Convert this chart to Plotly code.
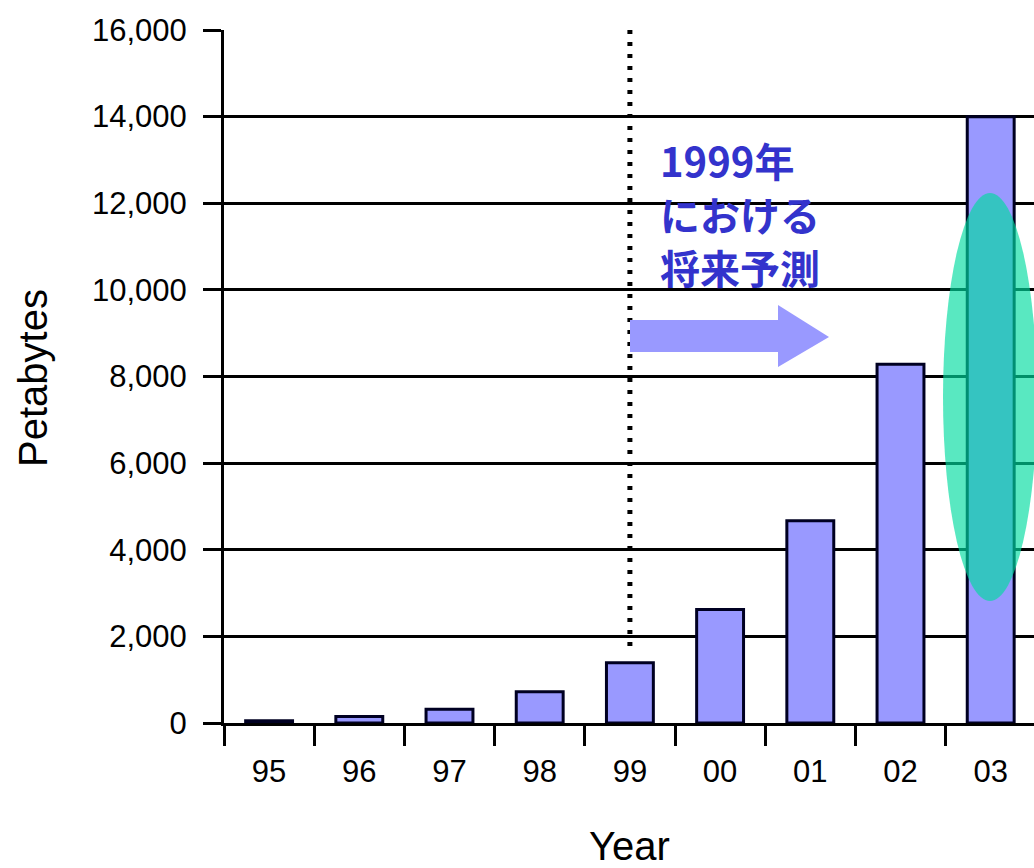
import plotly.graph_objects as go

# ---- data ----
years = ["95", "96", "97", "98", "99", "00", "01", "02", "03"]
petabytes = [50, 150, 320, 720, 1390, 2620, 4670, 8280, 14000]
y_ticks = [0, 2000, 4000, 6000, 8000, 10000, 12000, 14000, 16000]
y_ticktext = ["0", "2,000", "4,000", "6,000", "8,000", "10,000", "12,000", "14,000", "16,000"]
note_lines = ["1999年", "における", "将来予測"]

W, H = 1034, 868
L, R, T, B = 224, 0, 30, 145
PW, PH = W - L - R, H - T - B


def px(x):
    return (x - L) / PW


def py(y):
    return (H - B - y) / PH


fig = go.Figure()
fig.add_trace(go.Bar(
    x=years, y=petabytes,
    width=0.52,
    marker=dict(color="#9999ff", line=dict(color="#000022", width=3)),
    showlegend=False,
))

axis_font = dict(family="Liberation Sans, Arial, sans-serif", size=31, color="black")

fig.update_layout(
    width=W, height=H,
    margin=dict(l=L, r=R, t=T, b=B, autoexpand=False),
    paper_bgcolor="white", plot_bgcolor="white",
    xaxis=dict(
        type="category", categoryorder="array", categoryarray=years,
        range=[-0.5, 8.48], tickson="boundaries",
        ticks="outside", ticklen=20, tickwidth=3, tickcolor="black",
        showline=True, linewidth=3, linecolor="black",
        showgrid=False, zeroline=False, tickfont=axis_font,
        ticklabelstandoff=19,
    ),
    yaxis=dict(
        range=[0, 16000], tickvals=y_ticks, ticktext=y_ticktext,
        ticks="outside", ticklen=18, tickwidth=3, tickcolor="black",
        showline=True, linewidth=3, linecolor="black",
        showgrid=True, gridcolor="black", gridwidth=3,
        zeroline=False, tickfont=axis_font, ticklabelstandoff=10,
    ),
)

# axis titles
fig.add_annotation(text="Petabytes", xref="paper", yref="paper",
                   x=px(33), y=py(378), textangle=-90, showarrow=False,
                   xanchor="center", yanchor="middle",
                   font=dict(family="Liberation Sans, Arial, sans-serif", size=40, color="black"))
fig.add_annotation(text="Year", xref="paper", yref="paper",
                   x=0.5, y=py(823), showarrow=False,
                   xanchor="center", yanchor="top", borderpad=0,
                   font=dict(family="Liberation Sans, Arial, sans-serif", size=40, color="black"))

# white box behind the note (hides gridlines)
fig.add_shape(type="rect", xref="paper", yref="paper",
              x0=px(640), x1=px(875), y0=py(300), y1=py(130),
              fillcolor="white", line=dict(width=0), layer="between")

# dotted vertical line at 1999
fig.add_shape(type="line", xref="x", yref="y",
              x0=4, x1=4, y0=16000, y1=1780,
              line=dict(color="black", width=5, dash="4px,8px"))

# arrow
arrow_path = (
    f"M {px(630)},{py(320)} L {px(778)},{py(320)} L {px(778)},{py(305)} "
    f"L {px(829)},{py(337)} L {px(778)},{py(367)} L {px(778)},{py(352)} "
    f"L {px(630)},{py(352)} Z"
)
fig.add_shape(type="path", xref="paper", yref="paper", path=arrow_path,
              fillcolor="#9999ff", line=dict(width=0))

# note text, one annotation per line
for line_text, yc in zip(note_lines, [160, 214, 267]):
    fig.add_annotation(text=line_text, xref="paper", yref="paper",
                       x=px(659), y=py(yc), xanchor="left", yanchor="middle",
                       align="left", showarrow=False, borderpad=0,
                       font=dict(family="Noto Sans CJK JP", size=40, color="#3333cc", weight="bold"))

# highlight ellipse
fig.add_shape(type="circle", xref="paper", yref="paper",
              x0=px(943), x1=px(1037), y0=py(601), y1=py(193),
              fillcolor="rgba(0,220,160,0.65)", line=dict(width=0), layer="above")

fig.write_html("out.html")
